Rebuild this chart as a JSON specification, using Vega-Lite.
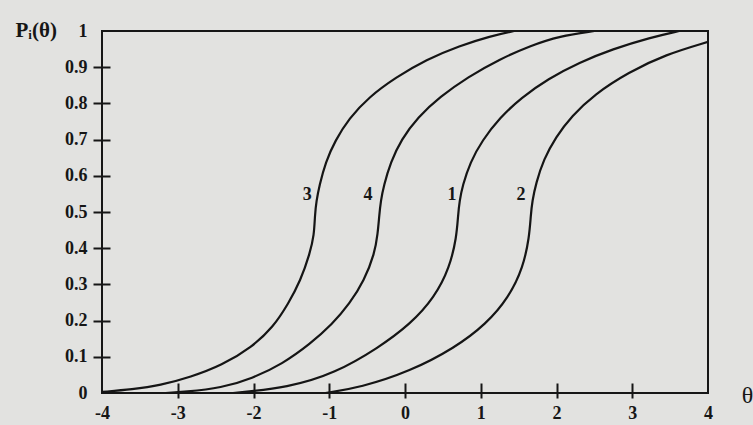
{
  "$schema": "https://vega.github.io/schema/vega-lite/v6.json",
  "width": 606,
  "height": 362,
  "autosize": "none",
  "padding": {"left": 102, "top": 31, "right": 45, "bottom": 32},
  "background": "#e2e2e0",
  "view": {"stroke": "#161616", "strokeWidth": 2},
  "config": {
    "font": "Liberation Serif",
    "axis": {"grid": false, "domain": false, "tickColor": "#161616", "tickWidth": 2, "labelColor": "#161616", "labelFont": "Liberation Serif", "labelFontSize": 18, "labelFontWeight": "bold", "titleFont": "Liberation Serif", "titleColor": "#161616", "titleFontWeight": "bold"}
  },
  "datasets": {
    "curves": [
      {"item": "3", "theta": -4.0, "p": 0.003},
      {"item": "3", "theta": -3.6, "p": 0.01},
      {"item": "3", "theta": -3.23, "p": 0.021},
      {"item": "3", "theta": -2.83, "p": 0.044},
      {"item": "3", "theta": -2.42, "p": 0.076},
      {"item": "3", "theta": -2.02, "p": 0.127},
      {"item": "3", "theta": -1.74, "p": 0.182},
      {"item": "3", "theta": -1.54, "p": 0.247},
      {"item": "3", "theta": -1.38, "p": 0.31},
      {"item": "3", "theta": -1.255, "p": 0.386},
      {"item": "3", "theta": -1.2, "p": 0.436},
      {"item": "3", "theta": -1.19, "p": 0.49},
      {"item": "3", "theta": -1.17, "p": 0.53},
      {"item": "3", "theta": -1.13, "p": 0.573},
      {"item": "3", "theta": -1.05, "p": 0.637},
      {"item": "3", "theta": -0.92, "p": 0.698},
      {"item": "3", "theta": -0.74, "p": 0.758},
      {"item": "3", "theta": -0.48, "p": 0.817},
      {"item": "3", "theta": -0.12, "p": 0.872},
      {"item": "3", "theta": 0.28, "p": 0.921},
      {"item": "3", "theta": 0.72, "p": 0.959},
      {"item": "3", "theta": 1.13, "p": 0.986},
      {"item": "3", "theta": 1.44, "p": 1.0},
      {"item": "4", "theta": -3.16, "p": 0.0},
      {"item": "4", "theta": -2.91, "p": 0.003},
      {"item": "4", "theta": -2.42, "p": 0.014},
      {"item": "4", "theta": -2.02, "p": 0.04},
      {"item": "4", "theta": -1.62, "p": 0.08},
      {"item": "4", "theta": -1.25, "p": 0.136},
      {"item": "4", "theta": -0.96, "p": 0.19},
      {"item": "4", "theta": -0.73, "p": 0.247},
      {"item": "4", "theta": -0.54, "p": 0.31},
      {"item": "4", "theta": -0.4, "p": 0.386},
      {"item": "4", "theta": -0.36, "p": 0.44},
      {"item": "4", "theta": -0.34, "p": 0.49},
      {"item": "4", "theta": -0.32, "p": 0.53},
      {"item": "4", "theta": -0.28, "p": 0.573},
      {"item": "4", "theta": -0.19, "p": 0.637},
      {"item": "4", "theta": -0.05, "p": 0.7},
      {"item": "4", "theta": 0.17, "p": 0.762},
      {"item": "4", "theta": 0.46, "p": 0.818},
      {"item": "4", "theta": 0.83, "p": 0.873},
      {"item": "4", "theta": 1.25, "p": 0.922},
      {"item": "4", "theta": 1.65, "p": 0.959},
      {"item": "4", "theta": 2.04, "p": 0.986},
      {"item": "4", "theta": 2.5, "p": 1.0},
      {"item": "1", "theta": -2.27, "p": 0.0},
      {"item": "1", "theta": -1.54, "p": 0.015},
      {"item": "1", "theta": -0.92, "p": 0.055},
      {"item": "1", "theta": -0.35, "p": 0.125},
      {"item": "1", "theta": 0.07, "p": 0.19},
      {"item": "1", "theta": 0.39, "p": 0.264},
      {"item": "1", "theta": 0.59, "p": 0.347},
      {"item": "1", "theta": 0.68, "p": 0.43},
      {"item": "1", "theta": 0.7, "p": 0.49},
      {"item": "1", "theta": 0.72, "p": 0.53},
      {"item": "1", "theta": 0.76, "p": 0.573},
      {"item": "1", "theta": 0.86, "p": 0.637},
      {"item": "1", "theta": 1.02, "p": 0.698},
      {"item": "1", "theta": 1.25, "p": 0.76},
      {"item": "1", "theta": 1.53, "p": 0.815},
      {"item": "1", "theta": 1.89, "p": 0.868},
      {"item": "1", "theta": 2.3, "p": 0.913},
      {"item": "1", "theta": 2.74, "p": 0.95},
      {"item": "1", "theta": 3.24, "p": 0.982},
      {"item": "1", "theta": 3.62, "p": 1.0},
      {"item": "2", "theta": -1.05, "p": 0.0},
      {"item": "2", "theta": -0.59, "p": 0.015},
      {"item": "2", "theta": 0.07, "p": 0.06},
      {"item": "2", "theta": 0.66, "p": 0.125},
      {"item": "2", "theta": 1.07, "p": 0.19},
      {"item": "2", "theta": 1.37, "p": 0.264},
      {"item": "2", "theta": 1.56, "p": 0.347},
      {"item": "2", "theta": 1.64, "p": 0.43},
      {"item": "2", "theta": 1.66, "p": 0.49},
      {"item": "2", "theta": 1.68, "p": 0.53},
      {"item": "2", "theta": 1.73, "p": 0.58},
      {"item": "2", "theta": 1.83, "p": 0.645},
      {"item": "2", "theta": 1.99, "p": 0.707},
      {"item": "2", "theta": 2.2, "p": 0.765},
      {"item": "2", "theta": 2.5, "p": 0.825},
      {"item": "2", "theta": 2.95, "p": 0.886},
      {"item": "2", "theta": 3.44, "p": 0.935},
      {"item": "2", "theta": 4.0, "p": 0.97}
    ],
    "labels": [
      {"item": "3", "theta": -1.29, "p": 0.546},
      {"item": "4", "theta": -0.49, "p": 0.546},
      {"item": "1", "theta": 0.62, "p": 0.546},
      {"item": "2", "theta": 1.53, "p": 0.546}
    ]
  },
  "encoding": {
    "x": {
      "field": "theta", "type": "quantitative",
      "scale": {"domain": [-4, 4], "nice": false, "zero": false},
      "axis": {
        "values": [-4, -3, -2, -1, 0, 1, 2, 3, 4],
        "labelExpr": "'' + datum.value",
        "offset": -10, "tickSize": 15, "labelPadding": 6,
        "labelFlush": false,
        "tickOpacity": {"condition": {"test": "datum.value == -4 || datum.value == 4", "value": 0}, "value": 1},
        "title": "θ", "titleFontSize": 24, "titleFontWeight": "normal", "titleX": 645, "titleY": 12, "titleAlign": "center", "titleBaseline": "middle", "titleAnchor": null
      }
    },
    "y": {
      "field": "p", "type": "quantitative",
      "scale": {"domain": [0, 1], "nice": false},
      "axis": {
        "values": [0, 0.1, 0.2, 0.3, 0.4, 0.5, 0.6, 0.7, 0.8, 0.9, 1],
        "format": "~g",
        "offset": -8, "tickSize": 17, "labelPadding": 6,
        "labelFlush": false,
        "tickOpacity": {"condition": {"test": "datum.value == 0 || datum.value == 1", "value": 0}, "value": 1},
        "title": "Pᵢ(θ)", "titleFontSize": 21, "titleAngle": 0, "titleX": -95, "titleY": -1, "titleAlign": "left", "titleBaseline": "middle", "titleAnchor": null
      }
    }
  },
  "layer": [
    {
      "data": {"name": "curves"},
      "mark": {"type": "line", "interpolate": "basis", "color": "#151515", "strokeWidth": 2.2, "clip": true},
      "encoding": {
        "detail": {"field": "item"},
        "order": {"field": "theta", "type": "quantitative"}
      }
    },
    {
      "data": {"name": "labels"},
      "mark": {"type": "text", "font": "Liberation Serif", "fontSize": 18, "fontWeight": "bold", "color": "#161616", "align": "center", "baseline": "middle"},
      "encoding": {"text": {"field": "item"}}
    }
  ]
}
